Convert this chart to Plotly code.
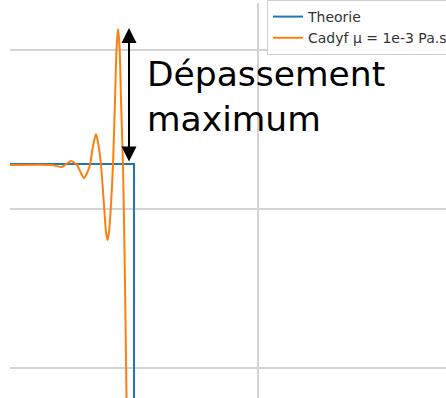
import plotly.graph_objects as go

# ---- data ----
theory_x = [-2.48, -1.24, -1.24]
theory_y = [1.281, 1.281, -1.0]

cadyf_x = [-2.48, -2.06, -2.01, -1.97, -1.93, -1.87, -1.81, -1.78, -1.74, -1.71,
           -1.68, -1.65, -1.62, -1.595, -1.57, -1.54, -1.52, -1.505, -1.49, -1.47,
           -1.45, -1.43, -1.415, -1.40, -1.385, -1.37, -1.35, -1.335, -1.325,
           -1.315, -1.31]
cadyf_y = [1.275, 1.275, 1.268, 1.262, 1.275, 1.300, 1.275, 1.237, 1.193, 1.224,
           1.275, 1.394, 1.469, 1.400, 1.275, 1.024, 0.854, 0.804, 0.854, 1.024,
           1.275, 1.683, 1.997, 2.129, 2.028, 1.683, 1.275, 0.741, 0.301,
           -0.188, -0.578]

series_names = ["Theorie", "Cadyf \u03bc = 1e-3 Pa.s"]
annot_text = "Dépassement<br>maximum"
arrow_x = -1.29
arrow_top = 2.135
arrow_bottom = 1.287

x_range = [-2.48, 1.88]
y_range = [-0.188, 2.292]
x_grid = [0.0]
y_grid = [0.0, 1.0, 2.0]

fig = go.Figure()
fig.add_trace(go.Scatter(x=theory_x, y=theory_y, mode="lines", name=series_names[0],
                         line=dict(color="#1f77b4", width=2)))
fig.add_trace(go.Scatter(x=cadyf_x, y=cadyf_y, mode="lines", name=series_names[1],
                         line=dict(color="#ff7f0e", width=2, shape="spline", smoothing=0.6)))

fig.add_annotation(x=arrow_x, y=arrow_top, ax=arrow_x, ay=arrow_bottom,
                   xref="x", yref="y", axref="x", ayref="y", text="",
                   showarrow=True, arrowside="end+start", arrowhead=2,
                   arrowsize=1.5, arrowwidth=2, arrowcolor="black")
fig.add_annotation(x=-1.133, y=1.985, xref="x", yref="y", text=annot_text,
                   showarrow=False, xanchor="left", yanchor="top", align="left",
                   font=dict(family="DejaVu Sans", size=34.5, color="black"))

fig.update_layout(
    width=446, height=398,
    margin=dict(l=10, r=0, t=3, b=0, autoexpand=False),
    plot_bgcolor="white", paper_bgcolor="white",
    showlegend=True,
    legend=dict(x=(267 - 10) / 436, y=1.0 + 3 / 395, xanchor="left", yanchor="top",
                bgcolor="rgba(255,255,255,0.85)", bordercolor="#d0d0d0", borderwidth=1,
                font=dict(family="DejaVu Sans", size=14, color="#333333"),
                tracegroupgap=0),
    xaxis=dict(range=x_range, tickvals=x_grid, showticklabels=False, showgrid=True,
               gridcolor="#d3d3d3", gridwidth=1.5, zeroline=False, showline=False, ticks=""),
    yaxis=dict(range=y_range, tickvals=y_grid, showticklabels=False, showgrid=True,
               gridcolor="#d3d3d3", gridwidth=1.5, zeroline=False, showline=False, ticks=""),
)

fig.write_html("out.html")
